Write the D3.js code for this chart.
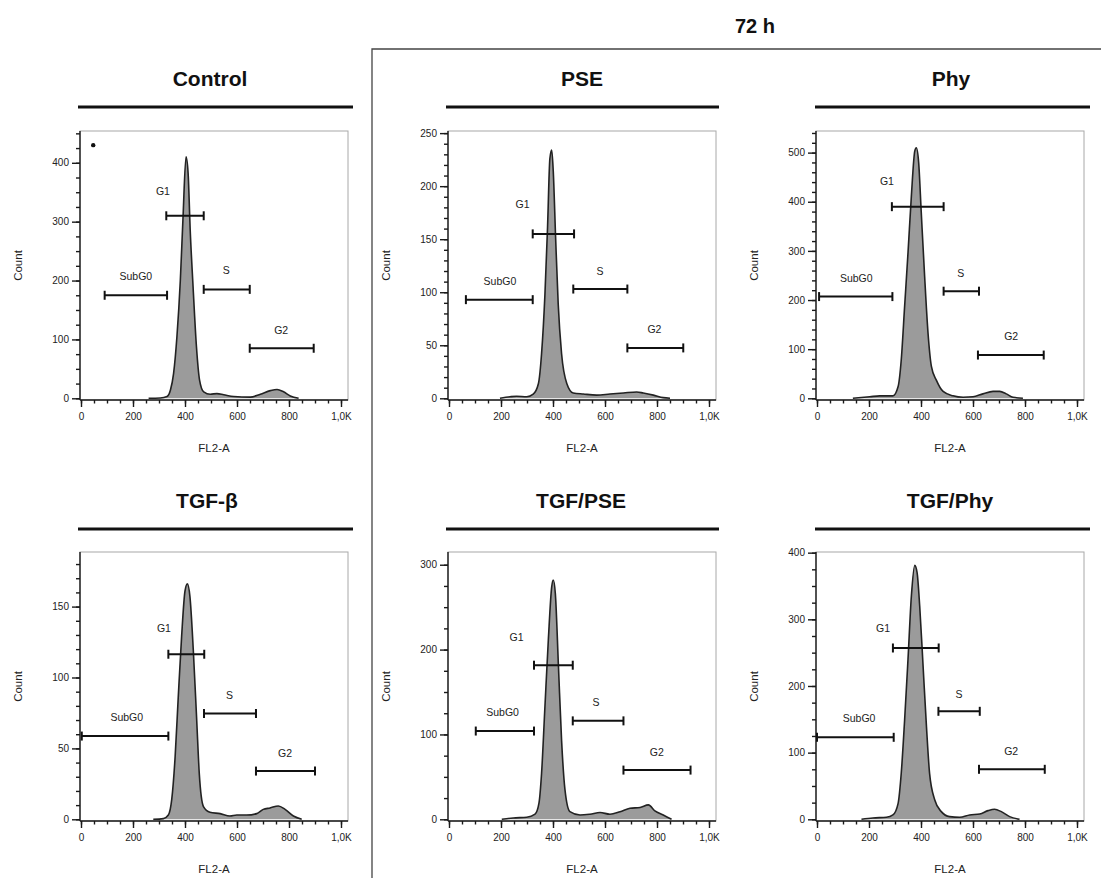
<!DOCTYPE html>
<html>
<head>
<meta charset="utf-8">
<script src="https://cdn.jsdelivr.net/npm/d3@7"></script>
<style>
  html, body { margin: 0; padding: 0; background: #fff; }
  svg { display: block; font-family: "Liberation Sans", Arial, sans-serif; }
</style>
</head>
<body>
<svg id="chart" width="1101" height="878"></svg>
<script>
// ---------------- DATA ----------------
const timeLabel = "72 h";
const panelTitles = ["Control", "PSE", "Phy", "TGF-β", "TGF/PSE", "TGF/Phy"];
const xAxisTitle = "FL2-A";
const yAxisTitle = "Count";
const xTickValues = [0, 200, 400, 600, 800, 1000];
const xTickLabels = ["0", "200", "400", "600", "800", "1,0K"];
const yMax = [454, 252, 544, 188.5, 315, 401];
const yMajorStep = [100, 50, 100, 50, 100, 100];
const yMinorStep = [25, 10, 20, 10, 25, 25];

// histograms (FL2-A value, count)
const fl2Control   = [260, 305, 331, 344, 356, 369, 382, 392, 404, 412, 420, 431, 444, 456, 472, 497, 523, 549, 587, 651, 690, 728, 754, 779, 805, 837];
const countControl = [0, 0.5, 3, 14, 42, 105, 200, 303, 410, 382, 286, 190, 88, 31, 11, 7, 8, 6, 3, 2, 7, 13, 15, 11, 4, 0];

const fl2PSE   = [196, 235, 260, 299, 324, 344, 356, 369, 379, 388, 395, 401, 410, 420, 433, 453, 478, 517, 568, 619, 671, 722, 747, 786, 824, 850];
const countPSE = [0, 1.5, 2, 1.5, 4, 14, 42, 98, 161, 226, 234, 214, 152, 89, 42, 14, 5, 4, 3, 4, 5, 6, 5, 3, 0.6, 0];

const fl2Phy   = [138, 203, 241, 292, 312, 324, 337, 350, 363, 376, 382, 391, 401, 414, 427, 440, 459, 485, 523, 562, 600, 638, 677, 703, 728, 754, 792];
const countPhy = [0, 3, 5, 5, 24, 78, 187, 296, 412, 503, 510, 480, 378, 248, 133, 65, 37, 14, 5, 2, 3, 9, 14, 14, 9, 2, 0];

const fl2TGF   = [278, 317, 336, 349, 362, 374, 387, 400, 409, 419, 432, 445, 455, 471, 496, 535, 573, 599, 637, 676, 701, 727, 759, 785, 817, 849];
const countTGF = [0, 0.5, 3, 14, 44, 86, 129, 161, 166, 157, 119, 70, 32, 9, 5, 4, 2.3, 3, 3, 4, 7, 8, 9.4, 7, 2.3, 0];

const fl2TGFPSE   = [203, 247, 299, 331, 346, 356, 369, 382, 395, 401, 409, 421, 433, 446, 465, 504, 542, 581, 619, 658, 696, 735, 767, 792, 824, 856];
const countTGFPSE = [0, 1.6, 2.4, 6, 19, 54, 133, 211, 274, 282, 266, 180, 93, 35, 9, 5, 6, 8, 6, 9, 13, 14, 17, 10, 5, 0];

const fl2TGFPhy   = [171, 215, 267, 292, 312, 324, 337, 350, 363, 376, 385, 395, 408, 421, 433, 453, 478, 510, 549, 587, 626, 658, 683, 709, 741, 779];
const countTGFPhy = [0, 2, 3, 6.5, 24, 69, 149, 240, 335, 381, 370, 320, 230, 139, 69, 29, 11.5, 4, 3, 6.5, 8, 13, 15, 11.5, 4, 0];

// gates: [from, to, count level, label FL2-A, label count]
const gateNames = ["SubG0", "G1", "S", "G2"];
const gatesControl = [[91, 331, 175, 211, 208], [328, 472, 310, 315, 352], [472, 649, 185, 559, 217], [649, 895, 85, 770, 116]];
const gatesPSE     = [[65, 322, 93, 196, 110], [322, 481, 155, 283, 183], [478, 686, 103, 581, 120], [686, 901, 47.5, 790, 65]];
const gatesPhy     = [[8, 290, 207, 151, 245], [288, 487, 390, 269, 442], [487, 623, 218, 553, 255], [619, 872, 88, 747, 126]];
const gatesTGF     = [[3, 336, 58.7, 176, 72], [336, 474, 116.4, 319, 135], [473, 673, 74.6, 571, 87.6], [673, 900, 34, 785, 46.5]];
const gatesTGFPSE  = [[103, 327, 104, 206, 126], [327, 476, 181.6, 260, 214], [476, 671, 116, 565, 138], [671, 929, 58, 799, 79]];
const gatesTGFPhy  = [[0, 295, 123, 162, 151], [292, 468, 257, 254, 286], [467, 626, 162, 546, 188], [623, 876, 75, 747, 102]];

// stray event dot in the Control plot [FL2-A, count]
const controlDot = [47, 430];

const histX = [fl2Control, fl2PSE, fl2Phy, fl2TGF, fl2TGFPSE, fl2TGFPhy];
const histY = [countControl, countPSE, countPhy, countTGF, countTGFPSE, countTGFPhy];
const gates = [gatesControl, gatesPSE, gatesPhy, gatesTGF, gatesTGFPSE, gatesTGFPhy];

// ---------------- LAYOUT ----------------
const colLeft = [80, 448, 816];
const rowTop = [131, 552];
const boxW = 268, boxH = 269;
const titleCenters = [[210, 582, 951], [207, 581, 950]];
const headerLineY = [107, 529];
const headerLines = [[78, 353], [446, 719], [815, 1090]];

const svg = d3.select("#chart");
const ink = "#1a1a1a";

// global "72 h" bracket
svg.append("text").attr("x", 755).attr("y", 33).attr("text-anchor", "middle")
  .attr("font-size", 20).attr("font-weight", "bold").attr("fill", "#111").text(timeLabel);
svg.append("path").attr("d", "M372,878 V49 H1101").attr("fill", "none")
  .attr("stroke", "#444").attr("stroke-width", 1.3);

const defs = svg.append("defs");

panelTitles.forEach((title, i) => {
  const r = Math.floor(i / 3), c = i % 3;
  const left = colLeft[c], top = rowTop[r], bottom = top + boxH;

  // title and underline
  svg.append("text").attr("x", titleCenters[r][c]).attr("y", headerLineY[r] - 21)
    .attr("text-anchor", "middle").attr("font-size", 21).attr("font-weight", "bold")
    .attr("fill", "#111").text(title);
  svg.append("line").attr("x1", headerLines[c][0]).attr("x2", headerLines[c][1])
    .attr("y1", headerLineY[r]).attr("y2", headerLineY[r])
    .attr("stroke", "#111").attr("stroke-width", 3);

  const x = d3.scaleLinear().domain([0, 1000]).range([left + 1, left + 261]);
  const y = d3.scaleLinear().domain([0, yMax[i]]).range([bottom - 1.7, top]);

  const g = svg.append("g");

  // frame
  g.append("rect").attr("x", left).attr("y", top).attr("width", boxW).attr("height", boxH)
    .attr("fill", "none").attr("stroke", "#a8a8a8").attr("stroke-width", 1);

  // clip
  const cid = "clip" + i;
  defs.append("clipPath").attr("id", cid).append("rect")
    .attr("x", left).attr("y", top).attr("width", boxW).attr("height", boxH);

  // histogram
  const pts = histX[i].map((v, k) => [v, histY[i][k]]);
  const area = d3.area().x(d => x(d[0])).y0(y(0)).y1(d => y(d[1])).curve(d3.curveMonotoneX);
  const line = d3.line().x(d => x(d[0])).y(d => y(d[1])).curve(d3.curveMonotoneX);
  const hg = g.append("g").attr("clip-path", `url(#${cid})`);
  hg.append("path").attr("d", area(pts)).attr("fill", "#9b9b9b");
  hg.append("path").attr("d", line(pts)).attr("fill", "none")
    .attr("stroke", "#222").attr("stroke-width", 1.6).attr("stroke-linejoin", "round");

  // x axis (major + minor)
  const xMinor = d3.range(0, 1001, 50);
  const xAxisMinor = d3.axisBottom(x).tickValues(xMinor).tickSize(3.5).tickFormat("");
  const xAxisMajor = d3.axisBottom(x).tickValues(xTickValues).tickSize(7)
    .tickFormat((d, k) => xTickLabels[k]);
  const gxMinor = g.append("g").attr("transform", `translate(0,${bottom})`).call(xAxisMinor);
  const gxMajor = g.append("g").attr("transform", `translate(0,${bottom})`).call(xAxisMajor);
  [gxMinor, gxMajor].forEach(a => {
    a.select(".domain").remove();
    a.selectAll("line").attr("stroke", ink).attr("stroke-width", 1.4);
  });
  gxMajor.selectAll("text").attr("font-size", 10).attr("fill", "#222")
    .attr("font-family", "Liberation Sans, Arial, sans-serif").attr("y", 13).attr("dy", "0.71em");
  g.append("line").attr("x1", left).attr("x2", left + boxW).attr("y1", bottom).attr("y2", bottom)
    .attr("stroke", ink).attr("stroke-width", 1.4);

  // y axis (major + minor)
  const yMinorVals = d3.range(0, yMax[i] + 0.001, yMinorStep[i]);
  const yMajorVals = d3.range(0, yMax[i] + 0.001, yMajorStep[i]);
  const gyMinor = g.append("g").attr("transform", `translate(${left},0)`)
    .call(d3.axisLeft(y).tickValues(yMinorVals).tickSize(4).tickFormat(""));
  const gyMajor = g.append("g").attr("transform", `translate(${left},0)`)
    .call(d3.axisLeft(y).tickValues(yMajorVals).tickSize(8).tickFormat(d3.format("d")));
  [gyMinor, gyMajor].forEach(a => {
    a.select(".domain").remove();
    a.selectAll("line").attr("stroke", ink).attr("stroke-width", 1.4);
  });
  gyMajor.selectAll("text").attr("font-size", 10).attr("fill", "#222")
    .attr("font-family", "Liberation Sans, Arial, sans-serif").attr("x", -11);
  g.append("line").attr("x1", left).attr("x2", left).attr("y1", top).attr("y2", bottom)
    .attr("stroke", ink).attr("stroke-width", 1.4);

  // axis titles
  g.append("text").attr("x", (left + left + boxW) / 2).attr("y", bottom + 52)
    .attr("text-anchor", "middle").attr("font-size", 11.5).attr("fill", "#222").text(xAxisTitle);
  g.append("text").attr("transform", `translate(${left - 58},${(top + bottom) / 2}) rotate(-90)`)
    .attr("text-anchor", "middle").attr("font-size", 11.5).attr("fill", "#222").text(yAxisTitle);

  // gates
  gates[i].forEach((gt, k) => {
    const [x0, x1, lvl, lx, ly] = gt;
    const yy = y(lvl);
    const gg = g.append("g").attr("stroke", "#111").attr("stroke-width", 2);
    gg.append("line").attr("x1", x(x0)).attr("x2", x(x1)).attr("y1", yy).attr("y2", yy);
    gg.append("line").attr("x1", x(x0)).attr("x2", x(x0)).attr("y1", yy - 4.5).attr("y2", yy + 4.5);
    gg.append("line").attr("x1", x(x1)).attr("x2", x(x1)).attr("y1", yy - 4.5).attr("y2", yy + 4.5);
    g.append("text").attr("x", x(lx)).attr("y", y(ly)).attr("dy", "0.35em")
      .attr("text-anchor", "middle").attr("font-size", 10.5).attr("fill", "#222")
      .text(gateNames[k]);
  });

  if (i === 0) {
    g.append("circle").attr("cx", x(controlDot[0])).attr("cy", y(controlDot[1]))
      .attr("r", 2.2).attr("fill", "#111");
  }
});
</script>
</body>
</html>
